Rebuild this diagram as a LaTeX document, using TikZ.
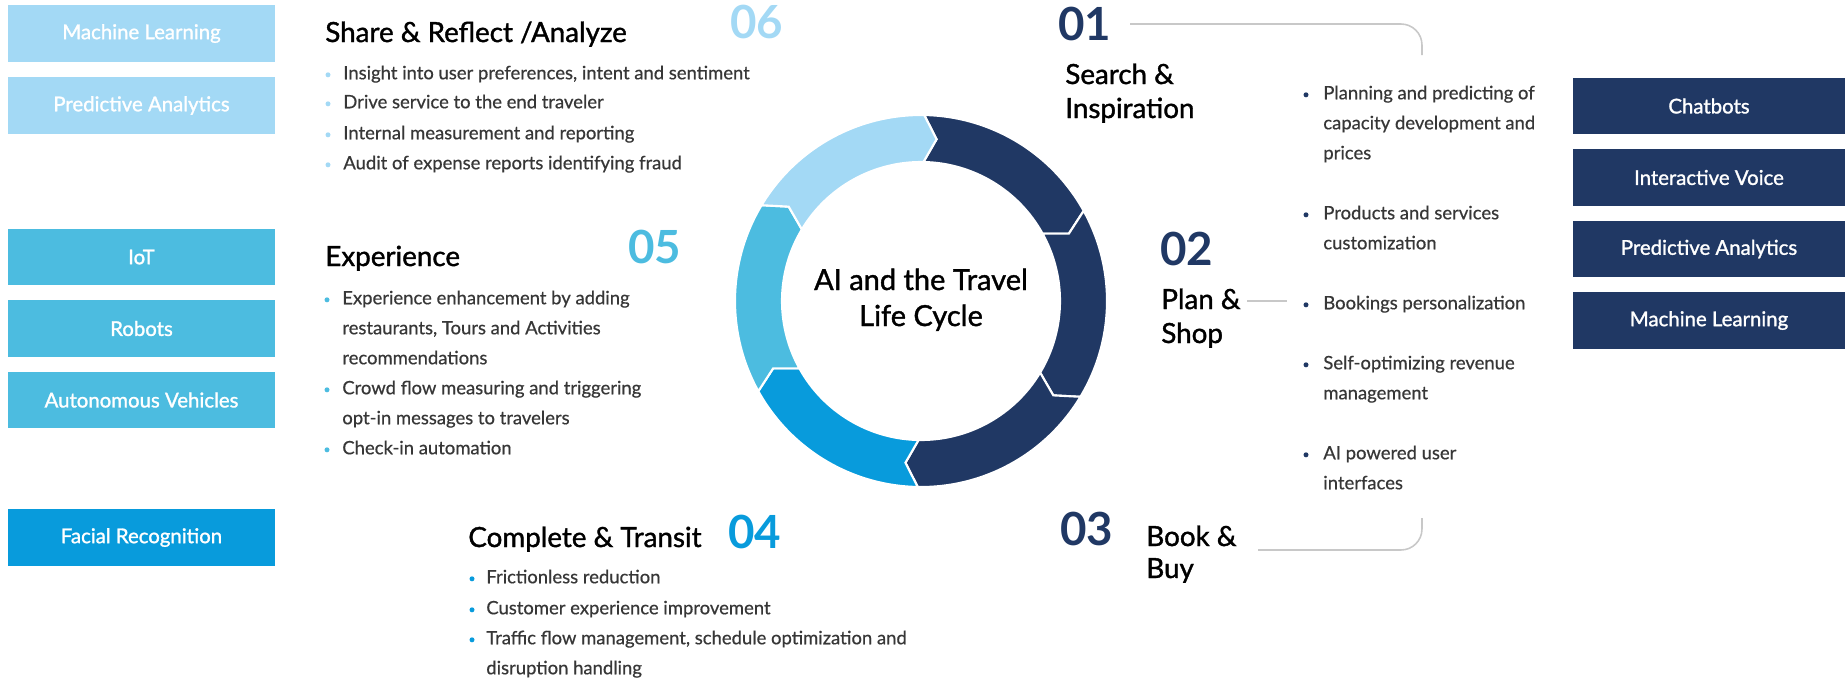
\documentclass[tikz,border=0pt]{standalone}
\usepackage{fontspec}
\setmainfont{Lato}
\newfontfamily\texteplein[FakeBold=0.6]{Lato}
\newfontfamily\textegras[FakeBold=1.3]{Lato}
\definecolor{marine}{RGB}{32,56,100}
\definecolor{bleu}{RGB}{8,155,220}
\definecolor{azur}{RGB}{76,188,224}
\definecolor{ciel}{RGB}{163,217,245}
\definecolor{gristexte}{RGB}{55,55,55}
\definecolor{grislien}{RGB}{200,200,200}
\begin{document}
\begin{tikzpicture}[x=0.02cm,y=-0.02cm]
			\tikzstyle{boite}=[rectangle,minimum width=5.34cm,minimum height=1.13cm,inner sep=0,text=white,font=\textegras\fontsize{11.6}{13}\selectfont]
			\tikzstyle{boiteD}=[boite,minimum width=5.44cm,fill=marine]
			\tikzstyle{titre}=[anchor=base west,inner sep=0,text=black,font=\textegras\fontsize{15.8}{17}\selectfont]
			\tikzstyle{centre}=[anchor=base,inner sep=0,text=black,font=\textegras\fontsize{16.5}{18}\selectfont]
			\tikzstyle{numero}=[anchor=base west,inner sep=0,font=\bfseries\fontsize{26}{28}\selectfont]
			\tikzstyle{ligne}=[anchor=mid west,inner sep=0,yshift=-1.6pt,text=gristexte,font=\texteplein\fontsize{10.5}{12}\selectfont]
			\tikzstyle{puce}=[circle,inner sep=0,minimum size=0.1cm,yshift=-1.6pt]
			\tikzstyle{lien}=[draw=grislien,line width=0.9pt,rounded corners=12pt]
			\tikzstyle{segment}=[draw=white,line width=1.2pt,line join=miter]
			
			\def\Rext{186}
			\def\Rint{139}
			\def\Rmil{162.5}
			\def\Pointe{4.5}
			
			\useasboundingbox (0,0) rectangle (1847,677);
			
			\node[boite,fill=ciel] (gML) at (141.5,33.5) {Machine Learning};
			\node[boite,fill=ciel] (gPA) at (141.5,105.5) {Predictive Analytics};
			\node[boite,fill=azur] (gIoT) at (141.5,257) {IoT};
			\node[boite,fill=azur] (gRob) at (141.5,328.5) {Robots};
			\node[boite,fill=azur] (gAV) at (141.5,400) {Autonomous Vehicles};
			\node[boite,fill=bleu] (gFR) at (141.5,537.5) {Facial Recognition};
			
			\node[boiteD] (dCB) at (1709,106) {Chatbots};
			\node[boiteD] (dIV) at (1709,177.5) {Interactive Voice};
			\node[boiteD] (dPA) at (1709,249) {Predictive Analytics};
			\node[boiteD] (dML) at (1709,320.5) {Machine Learning};
			
			\begin{scope}[shift={(921,301)},yscale=-1]
				\foreach \a/\coul in {89/marine,29/marine,-31/marine,-91/bleu,-151/azur,149/ciel}{
					\pgfmathsetmacro\b{\a-60}
					\filldraw[segment,fill=\coul] (\a:\Rext) arc[start angle=\a,end angle=\b,radius=\Rext] -- ({\b-\Pointe}:\Rmil) -- (\b:\Rint) arc[start angle=\b,end angle=\a,radius=\Rint] -- ({\a-\Pointe}:\Rmil) -- cycle;
				}
			\end{scope}
			
			\node[centre] (cA) at (921,290) {AI and the Travel};
			\node[centre] (cB) at (921,326) {Life Cycle};
			
			\node[numero,text=marine] (n01) at (1058,40) {01};
			\node[numero,text=marine] (n02) at (1160,265) {02};
			\node[numero,text=marine] (n03) at (1060,545) {03};
			\node[numero,text=bleu] (n04) at (728,548) {04};
			\node[numero,text=azur] (n05) at (628,263) {05};
			\node[numero,text=ciel] (n06) at (730,38) {06};
			
			\node[titre] (hSR) at (325,42) {Share \& Reflect /Analyze};
			\node[titre] (hEx) at (325,266) {Experience};
			\node[titre] (hCT) at (468,547) {Complete \& Transit};
			\node[titre] (hSIa) at (1065,84) {Search \&};
			\node[titre] (hSIb) at (1065,118) {Inspiration};
			\node[titre] (hPSa) at (1161,309) {Plan \&};
			\node[titre] (hPSb) at (1161,343) {Shop};
			\node[titre] (hBBa) at (1146,546) {Book \&};
			\node[titre] (hBBb) at (1146,578) {Buy};
			
			\foreach \y/\t [count=\i] in {72/{Insight into user preferences, intent and sentiment},101/{Drive service to the end traveler},132/{Internal measurement and reporting},162/{Audit of expense reports identifying fraud}}
				\node[ligne] (lSR\i) at (343,\y) {\t};
			\foreach \y [count=\i] in {72,101,132,162}
				\node[puce,fill=ciel] (pSR\i) at (328,\y) {};
			
			\foreach \y/\t [count=\i] in {297/{Experience enhancement by adding},327/{restaurants, Tours and Activities},357/{recommendations},387/{Crowd flow measuring and triggering},417/{opt-in messages to travelers},447/{Check-in automation}}
				\node[ligne] (lEx\i) at (342,\y) {\t};
			\foreach \y [count=\i] in {297,387,447}
				\node[puce,fill=azur] (pEx\i) at (327,\y) {};
			
			\foreach \y/\t [count=\i] in {576/{Frictionless reduction},607/{Customer experience improvement},637/{Traffic flow management, schedule optimization and},667/{disruption handling}}
				\node[ligne] (lCT\i) at (486,\y) {\t};
			\foreach \y [count=\i] in {576,607,637}
				\node[puce,fill=bleu] (pCT\i) at (472,\y) {};
			
			\foreach \y/\t [count=\i] in {92/{Planning and predicting of},122/{capacity development and},152/{prices},212/{Products and services},242/{customization},302/{Bookings personalization},362/{Self-optimizing revenue},392/{management},452/{AI powered user},482/{interfaces}}
				\node[ligne] (lPS\i) at (1323,\y) {\t};
			\foreach \y [count=\i] in {92,212,302,362,452}
				\node[puce,fill=marine] (pPS\i) at (1306,\y) {};
			
			\coordinate (l1a) at (1130,24);
			\coordinate (l1b) at (1422,55);
			\coordinate (l2a) at (1247,301);
			\coordinate (l2b) at (1287,301);
			\coordinate (l3a) at (1258,550);
			\coordinate (l3b) at (1422,518);
			
			\draw[lien] (l1a) -| (l1b);
			\draw[lien] (l2a) -- (l2b);
			\draw[lien] (l3a) -| (l3b);
		\end{tikzpicture}
\end{document}
